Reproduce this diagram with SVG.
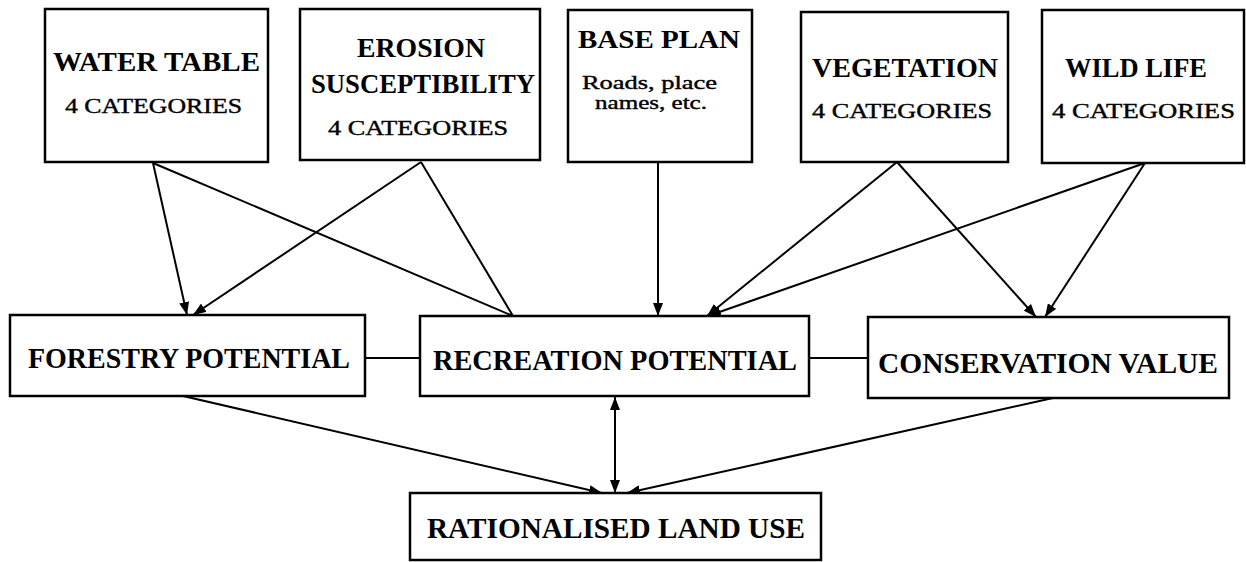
<svg xmlns="http://www.w3.org/2000/svg" width="1246" height="562" viewBox="0 0 1246 562">
<style>
.box{fill:#fff;stroke:#000;stroke-width:2.5}
.t{font-family:"Liberation Serif",serif;font-weight:bold;fill:#000}
.s{font-family:"Liberation Serif",serif;fill:#000;stroke:#000;stroke-width:0.4}
.c line{stroke:#000;stroke-width:2}
</style>
<defs>
<marker id="ah" viewBox="0 0 13 10" refX="13" refY="5" markerWidth="13" markerHeight="10" markerUnits="userSpaceOnUse" orient="auto-start-reverse">
<path d="M0,0 L13,5 L0,10 z" fill="#000"/>
</marker>
</defs>
<rect width="1246" height="562" fill="#fff"/>
<g class="c" id="connectors">
<line x1="153" y1="163" x2="187" y2="315" marker-end="url(#ah)"/>
<line x1="153" y1="163" x2="513" y2="316"/>
<line x1="421" y1="162" x2="193" y2="315" marker-end="url(#ah)"/>
<line x1="421" y1="162" x2="513" y2="316"/>
<line x1="658" y1="162" x2="658" y2="316" marker-end="url(#ah)"/>
<line x1="897" y1="162" x2="707" y2="316" marker-end="url(#ah)"/>
<line x1="897" y1="162" x2="1036" y2="317" marker-end="url(#ah)"/>
<line x1="1145" y1="163" x2="708" y2="316" marker-end="url(#ah)"/>
<line x1="1145" y1="163" x2="1045" y2="317" marker-end="url(#ah)"/>
<line x1="365" y1="358" x2="420" y2="358"/>
<line x1="809" y1="358" x2="868" y2="358"/>
<line x1="183" y1="396" x2="602" y2="493" marker-end="url(#ah)"/>
<line x1="615" y1="397" x2="615" y2="493" marker-start="url(#ah)" marker-end="url(#ah)"/>
<line x1="1053" y1="398" x2="627" y2="493" marker-end="url(#ah)"/>
</g>
<g id="water-table">
<rect class="box" x="45" y="9" width="223" height="153"/>
<text class="t" x="53" y="71" font-size="27" textLength="207" lengthAdjust="spacingAndGlyphs">WATER TABLE</text>
<text class="s" x="65" y="113" font-size="21" textLength="177" lengthAdjust="spacingAndGlyphs">4 CATEGORIES</text>
</g>
<g id="erosion">
<rect class="box" x="300" y="9" width="240" height="151"/>
<text class="t" x="357" y="57" font-size="27" textLength="128" lengthAdjust="spacingAndGlyphs">EROSION</text>
<text class="t" x="311" y="93" font-size="27" textLength="224" lengthAdjust="spacingAndGlyphs">SUSCEPTIBILITY</text>
<text class="s" x="328" y="135" font-size="21" textLength="180" lengthAdjust="spacingAndGlyphs">4 CATEGORIES</text>
</g>
<g id="base-plan">
<rect class="box" x="568" y="10" width="184" height="152"/>
<text class="t" x="578" y="48" font-size="26" textLength="162" lengthAdjust="spacingAndGlyphs">BASE PLAN</text>
<text class="s" x="582" y="89" font-size="19" textLength="135" lengthAdjust="spacingAndGlyphs">Roads, place</text>
<text class="s" x="595" y="109" font-size="19" textLength="112" lengthAdjust="spacingAndGlyphs">names, etc.</text>
</g>
<g id="vegetation">
<rect class="box" x="801" y="12" width="207" height="150"/>
<text class="t" x="812" y="77" font-size="27" textLength="186" lengthAdjust="spacingAndGlyphs">VEGETATION</text>
<text class="s" x="812" y="118" font-size="21" textLength="180" lengthAdjust="spacingAndGlyphs">4 CATEGORIES</text>
</g>
<g id="wild-life">
<rect class="box" x="1042" y="10" width="202" height="153"/>
<text class="t" x="1065" y="77" font-size="27" textLength="142" lengthAdjust="spacingAndGlyphs">WILD LIFE</text>
<text class="s" x="1052" y="118" font-size="21" textLength="183" lengthAdjust="spacingAndGlyphs">4 CATEGORIES</text>
</g>
<g id="forestry-potential">
<rect class="box" x="10" y="315" width="355" height="81"/>
<text class="t" x="28" y="368" font-size="29" textLength="322" lengthAdjust="spacingAndGlyphs">FORESTRY POTENTIAL</text>
</g>
<g id="recreation-potential">
<rect class="box" x="420" y="316" width="389" height="80"/>
<text class="t" x="433" y="370" font-size="29" textLength="364" lengthAdjust="spacingAndGlyphs">RECREATION POTENTIAL</text>
</g>
<g id="conservation-value">
<rect class="box" x="868" y="317" width="361" height="81"/>
<text class="t" x="878" y="373" font-size="29" textLength="340" lengthAdjust="spacingAndGlyphs">CONSERVATION VALUE</text>
</g>
<g id="rationalised-land-use">
<rect class="box" x="410" y="493" width="411" height="67"/>
<text class="t" x="427" y="538" font-size="29" textLength="378" lengthAdjust="spacingAndGlyphs">RATIONALISED LAND USE</text>
</g>
</svg>
